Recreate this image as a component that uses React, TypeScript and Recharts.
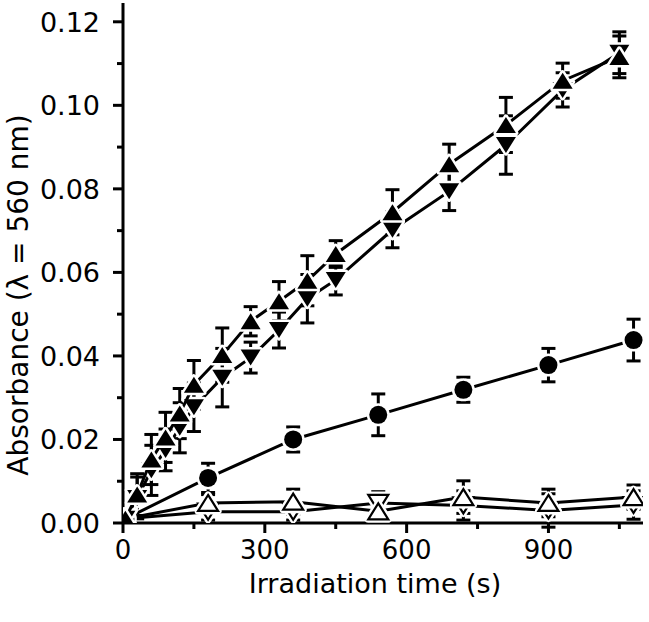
import { ComposedChart, Scatter, XAxis, YAxis, ErrorBar } from "recharts";

const FONT = "'DejaVu Sans', Arial, sans-serif";

// tiempos de irradiación (s)
const tFast = [5, 30, 60, 90, 120, 150, 210, 270, 330, 390, 450, 570, 690, 810, 930, 1050];
const tSlow = [5, 180, 360, 540, 720, 900, 1080];

// triángulo lleno hacia arriba
const upFilled = [0.001, 0.0068, 0.0152, 0.0205, 0.0262, 0.0331, 0.0402, 0.0483, 0.0531, 0.058, 0.0644, 0.0744, 0.0859, 0.0953, 0.1059, 0.1116];
const upFilledErr = [0, 0.005, 0.006, 0.006, 0.006, 0.0058, 0.0065, 0.0035, 0.0047, 0.006, 0.0032, 0.0054, 0.0048, 0.0066, 0.0042, 0.005];

// triángulo lleno hacia abajo
const downFilled = [0.001, 0.006, 0.0126, 0.0175, 0.0228, 0.0277, 0.0348, 0.0396, 0.0462, 0.0537, 0.0582, 0.0702, 0.0794, 0.0905, 0.1037, 0.1126];
const downFilledErr = [0, 0.005, 0.006, 0.005, 0.006, 0.0058, 0.007, 0.0037, 0.0043, 0.0058, 0.0036, 0.0043, 0.0046, 0.007, 0.0041, 0.005];

// círculo lleno
const circle = [0.001, 0.0108, 0.02, 0.0259, 0.0319, 0.0378, 0.0438];
const circleErr = [0, 0.0035, 0.003, 0.005, 0.003, 0.004, 0.005];

// triángulos abiertos
const openUp = [0.001, 0.0048, 0.0051, 0.0028, 0.0062, 0.0048, 0.0062];
const openUpErr = [0, 0.002, 0.003, 0.002, 0.0039, 0.0033, 0.0029];
const openDown = [0.001, 0.0027, 0.0027, 0.0048, 0.0042, 0.003, 0.0043];
const openDownErr = [0, 0.002, 0.002, 0.0027, 0.0035, 0.004, 0.0034];

const xTicks = [0, 150, 300, 450, 600, 750, 900, 1050];
const yTicks = [0, 0.01, 0.02, 0.03, 0.04, 0.05, 0.06, 0.07, 0.08, 0.09, 0.1, 0.11, 0.12];

const toPoints = (t: number[], v: number[], e: number[]) =>
  t.map((x, i) => ({ x, y: v[i], e: e[i] }));

const TICK_SIZE = 10;
const X_MARGIN = 8;
const Y_MARGIN = 13;

const triPath = (cx: number, cy: number, up: boolean) =>
  up
    ? `M${cx},${cy - 8} L${cx + 10},${cy + 8} L${cx - 10},${cy + 8} Z`
    : `M${cx},${cy + 8} L${cx + 10},${cy - 8} L${cx - 10},${cy - 8} Z`;

const FilledTri = (up: boolean) => (props: any) => (
  <path
    d={triPath(props.cx, props.cy, up)}
    fill="#000"
    stroke="#fff"
    strokeWidth={5}
    strokeLinejoin="round"
    paintOrder="stroke"
  />
);

const OpenTri = (up: boolean) => (props: any) => (
  <g>
    <path d={triPath(props.cx, props.cy, up)} fill="#fff" stroke="#fff" strokeWidth={7} strokeLinejoin="round" />
    <path d={triPath(props.cx, props.cy, up)} fill="#fff" stroke="#000" strokeWidth={2.2} />
  </g>
);

const Dot = (props: any) => (
  <circle cx={props.cx} cy={props.cy} r={9} fill="#000" stroke="#fff" strokeWidth={5} paintOrder="stroke" />
);

const XTick = (props: any) => {
  const { x, y, payload } = props;
  const v = payload.value;
  const major = v % 300 === 0;
  const axisY = y - X_MARGIN - TICK_SIZE;
  return (
    <g>
      <line x1={x} x2={x} y1={axisY} y2={axisY + (major ? TICK_SIZE : 6)} stroke="#000" strokeWidth={3} />
      {major && (
        <text x={x} y={y} dy="0.71em" textAnchor="middle" fontSize={26} fontFamily={FONT} fill="#000">
          {v}
        </text>
      )}
    </g>
  );
};

const YTick = (props: any) => {
  const { x, y, payload } = props;
  const v = payload.value;
  const major = Math.round(v * 100) % 2 === 0;
  const axisX = x + Y_MARGIN + TICK_SIZE;
  return (
    <g>
      <line x1={axisX} x2={axisX - (major ? TICK_SIZE : 6)} y1={y} y2={y} stroke="#000" strokeWidth={3} />
      {major && (
        <text x={x} y={y} dy="0.37em" textAnchor="end" fontSize={27} fontFamily={FONT} fill="#000">
          {v.toFixed(2)}
        </text>
      )}
    </g>
  );
};

const series = [
  { name: "openDown", data: toPoints(tSlow, openDown, openDownErr), shape: OpenTri(false) },
  { name: "openUp", data: toPoints(tSlow, openUp, openUpErr), shape: OpenTri(true) },
  { name: "circle", data: toPoints(tSlow, circle, circleErr), shape: Dot },
  { name: "downFilled", data: toPoints(tFast, downFilled, downFilledErr), shape: FilledTri(false) },
  { name: "upFilled", data: toPoints(tFast, upFilled, upFilledErr), shape: FilledTri(true) },
];

export default function App() {
  return (
    <div style={{ position: "absolute", left: 0, top: 0, background: "#fff" }}>
      <ComposedChart width={649} height={622} margin={{ top: 3, right: 6, bottom: 0, left: 0 }}>
        <XAxis
          type="number"
          dataKey="x"
          domain={[0, 1100]}
          ticks={xTicks}
          allowDataOverflow
          height={99}
          tickSize={TICK_SIZE}
          tickMargin={X_MARGIN}
          tickLine={false}
          axisLine={{ stroke: "#000", strokeWidth: 3 }}
          tick={<XTick />}
          interval={0}
          label={{
            content: () => (
              <text x={375} y={593} textAnchor="middle" fontSize={27} fontFamily={FONT} fill="#000">
                Irradiation time (s)
              </text>
            ),
          }}
        />
        <YAxis
          type="number"
          dataKey="y"
          domain={[0, 0.1245]}
          ticks={yTicks}
          allowDataOverflow
          width={123}
          tickSize={TICK_SIZE}
          tickMargin={Y_MARGIN}
          tickLine={false}
          axisLine={{ stroke: "#000", strokeWidth: 3 }}
          tick={<YTick />}
          interval={0}
          label={{
            content: () => (
              <text
                x={28}
                y={295}
                transform="rotate(-90, 28, 295)"
                textAnchor="middle"
                fontSize={28}
                fontFamily={FONT}
                fill="#000"
              >
                Absorbance (λ = 560 nm)
              </text>
            ),
          }}
        />
        {series.map((s) => (
          <Scatter
            key={s.name}
            name={s.name}
            data={s.data}
            fill="#000"
            line={{ stroke: "#000", strokeWidth: 3 }}
            lineType="joint"
            shape={s.shape}
            isAnimationActive={false}
          >
            <ErrorBar dataKey="e" direction="y" width={7} strokeWidth={3} stroke="#000" />
          </Scatter>
        ))}
      </ComposedChart>
    </div>
  );
}
